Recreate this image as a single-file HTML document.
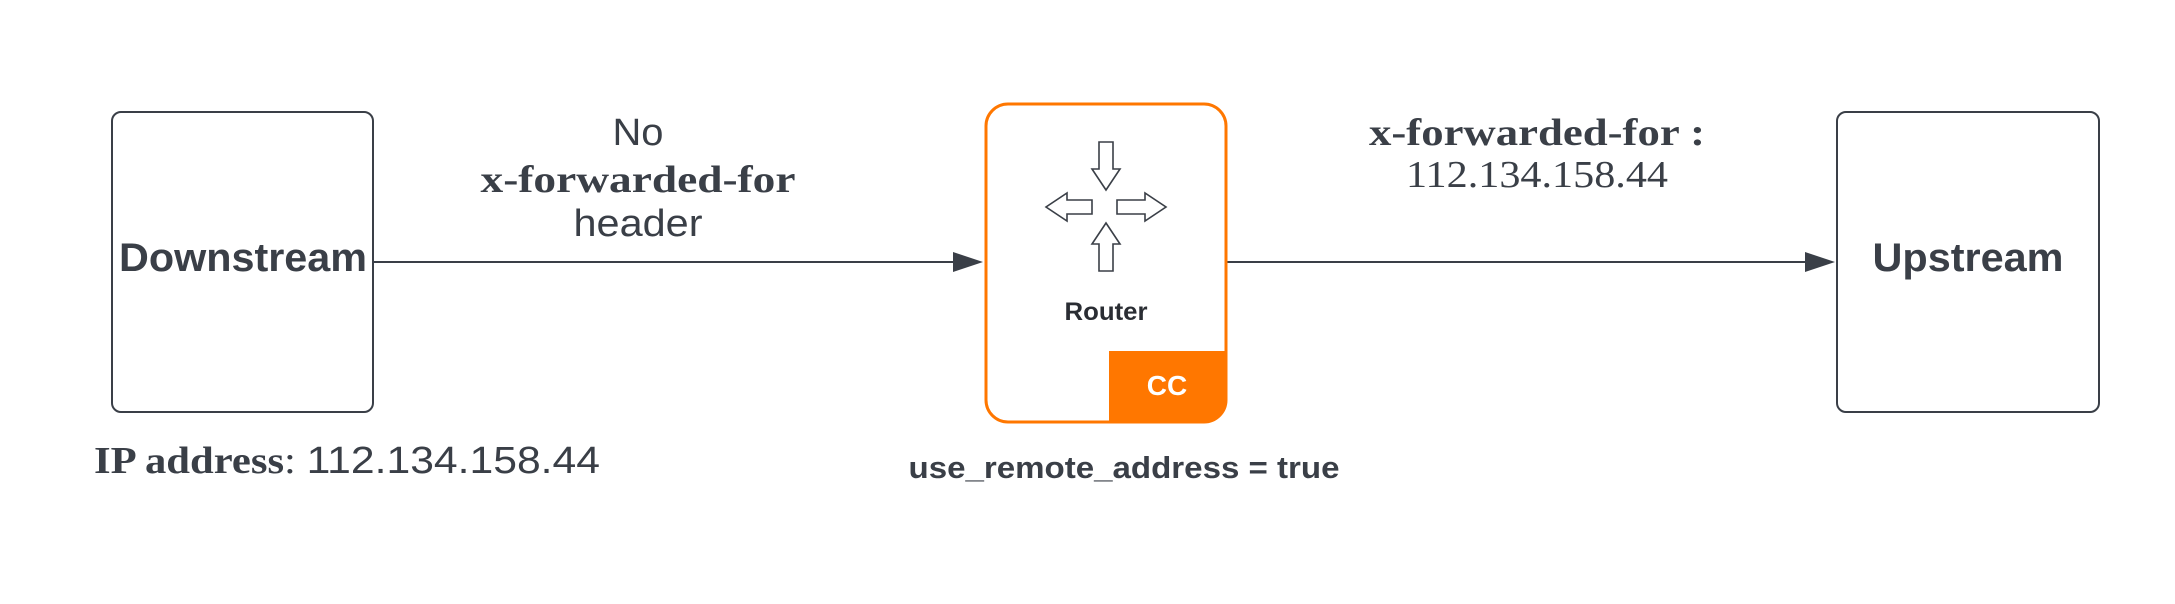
<!DOCTYPE html>
<html><head><meta charset="utf-8"><style>
html,body{margin:0;padding:0;background:#fff;}
svg{display:block;}
</style></head><body>
<svg width="2175" height="604" viewBox="0 0 2175 604" xmlns="http://www.w3.org/2000/svg">
<rect x="0" y="0" width="2175" height="604" fill="#fff"/>
<!-- Downstream -->
<rect x="112" y="112" width="261" height="300" rx="9" fill="#fff" stroke="#3a3f47" stroke-width="2"/>
<text x="243" y="271" text-anchor="middle" font-family="Liberation Sans, sans-serif" font-weight="bold" font-size="40" fill="#3a3f47" textLength="248" lengthAdjust="spacingAndGlyphs">Downstream</text>
<!-- Upstream -->
<rect x="1837" y="112" width="262" height="300" rx="9" fill="#fff" stroke="#3a3f47" stroke-width="2"/>
<text x="1968" y="271" text-anchor="middle" font-family="Liberation Sans, sans-serif" font-weight="bold" font-size="40" fill="#3a3f47" textLength="191" lengthAdjust="spacingAndGlyphs">Upstream</text>
<!-- arrows -->
<line x1="374" y1="262" x2="960" y2="262" stroke="#3a3f47" stroke-width="2"/>
<polygon points="953,252 983,262 953,272" fill="#3a3f47"/>
<line x1="1226" y1="262" x2="1810" y2="262" stroke="#3a3f47" stroke-width="2"/>
<polygon points="1805,252 1835,262 1805,272" fill="#3a3f47"/>
<!-- Router -->
<rect x="986" y="104" width="240" height="318" rx="22" fill="#fff" stroke="#ff7700" stroke-width="3"/>
<path d="M1109 351 H1226 V400 a22 22 0 0 1 -22 22 H1109 Z" fill="#ff7700"/>
<text x="1167" y="395" text-anchor="middle" font-family="Liberation Sans, sans-serif" font-weight="bold" font-size="28" fill="#fff">CC</text>
<text x="1106" y="320" text-anchor="middle" font-family="Liberation Sans, sans-serif" font-weight="bold" font-size="25" fill="#2a2d33" textLength="83" lengthAdjust="spacingAndGlyphs">Router</text>
<g fill="#fff" stroke="#3a3f47" stroke-width="1.6">
<polygon points="1099,142 1113,142 1113,169 1120,169 1106,190 1092,169 1099,169"/>
<polygon points="1099,271 1113,271 1113,244 1120,244 1106,223 1092,244 1099,244"/>
<polygon points="1092,200 1092,214 1067,214 1067,221 1046,207 1067,193 1067,200"/>
<polygon points="1117,200 1117,214 1145,214 1145,221 1166,207 1145,193 1145,200"/>
</g>
<!-- labels -->
<text x="638" y="145" text-anchor="middle" font-family="Liberation Sans, sans-serif" font-size="38" fill="#3a3f47" textLength="51" lengthAdjust="spacingAndGlyphs">No</text>
<text x="638" y="192" text-anchor="middle" font-family="Liberation Serif, serif" font-weight="bold" font-size="38" fill="#3a3f47" textLength="315" lengthAdjust="spacingAndGlyphs">x-forwarded-for</text>
<text x="638" y="236" text-anchor="middle" font-family="Liberation Sans, sans-serif" font-size="38" fill="#3a3f47" textLength="129" lengthAdjust="spacingAndGlyphs">header</text>
<text x="1537" y="145" text-anchor="middle" font-family="Liberation Serif, serif" font-weight="bold" font-size="38" fill="#3a3f47" textLength="336" lengthAdjust="spacingAndGlyphs">x-forwarded-for :</text>
<text x="1537" y="187" text-anchor="middle" font-family="Liberation Serif, serif" font-size="38" fill="#3a3f47" textLength="262" lengthAdjust="spacingAndGlyphs">112.134.158.44</text>
<text x="94" y="473" font-family="Liberation Serif, serif" font-size="38" fill="#3a3f47" textLength="506" lengthAdjust="spacingAndGlyphs"><tspan font-weight="bold">IP address</tspan>: <tspan font-family="Liberation Sans, sans-serif">112.134.158.44</tspan></text>
<text x="1124" y="478" text-anchor="middle" font-family="Liberation Sans, sans-serif" font-weight="bold" font-size="31" fill="#3a3f47" textLength="431" lengthAdjust="spacingAndGlyphs">use_remote_address = true</text>
</svg>
</body></html>
